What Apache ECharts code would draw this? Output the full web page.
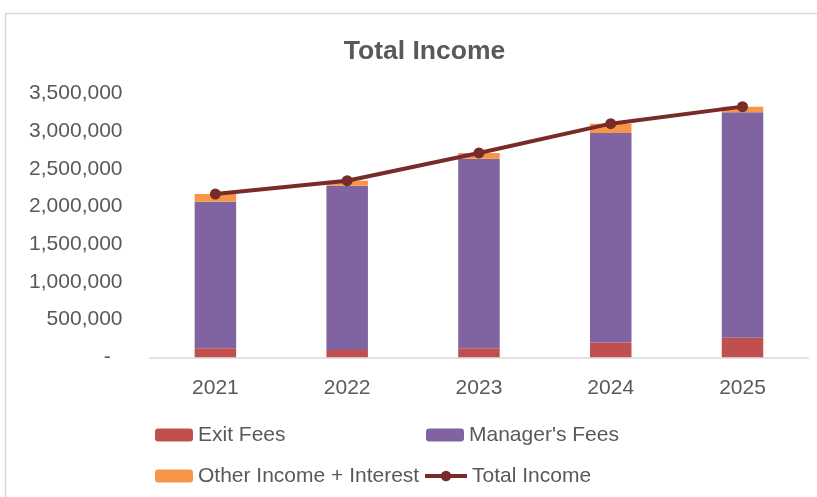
<!DOCTYPE html>
<html>
<head>
<meta charset="utf-8">
<script src="https://cdn.jsdelivr.net/npm/echarts@6/dist/echarts.min.js"></script>
<style>
html,body{margin:0;padding:0;background:#fff;}
#c{width:817px;height:497px;}
</style>
</head>
<body>
<div id="c"></div>
<script>
var categories = ['2021', '2022', '2023', '2024', '2025'];
var exitFees = [120000, 97000, 120000, 195000, 261000];
var managersFees = [1944000, 2180000, 2516000, 2783000, 2990000];
var otherIncome = [103000, 67000, 76000, 123000, 76000];
var totalIncome = [2167000, 2344000, 2712000, 3101000, 3327000];
var yTicks = [0, 500000, 1000000, 1500000, 2000000, 2500000, 3000000, 3500000];

var txt = '#595959';
var axisFont = "'Liberation Sans', Arial, sans-serif";
var chart = echarts.init(document.getElementById('c'), null, {renderer: 'canvas'});
var legendBase = {
  orient: 'horizontal', padding: 0, itemWidth: 38, itemHeight: 13,
  textStyle: {color: txt, fontSize: 21, fontFamily: axisFont, lineHeight: 20}
};
chart.setOption({
  animation: false,
  backgroundColor: '#fff',
  graphic: [{
    type: 'rect', silent: true,
    shape: {x: 5.5, y: 13.5, width: 900, height: 600},
    style: {fill: 'none', stroke: '#d9d9d9', lineWidth: 1.5}
  }],
  title: {
    text: 'Total Income', left: 419.5, top: 33, textAlign: 'center',
    textStyle: {fontSize: 26.5, fontWeight: 'bold', color: txt, fontFamily: axisFont}
  },
  legend: [
    Object.assign({}, legendBase, {left: 155, top: 424.5, data: ['Exit Fees']}),
    Object.assign({}, legendBase, {left: 426, top: 424.5, data: ["Manager's Fees"]}),
    Object.assign({}, legendBase, {left: 155, top: 465.5, data: ['Other Income + Interest']}),
    Object.assign({}, legendBase, {left: 423, top: 465.5, itemWidth: 42, itemHeight: 13,
      lineStyle: {width: 4, color: '#772c2a'}, data: ['Total Income']})
  ],
  grid: {left: 149.5, right: 8.6, top: 93.6, bottom: 497 - 357.3, containLabel: false},
  xAxis: {
    type: 'category', data: categories,
    axisLine: {show: true, lineStyle: {color: '#d9d9d9', width: 1.5}},
    axisTick: {show: false},
    axisLabel: {color: txt, fontSize: 21, fontFamily: axisFont, margin: 20}
  },
  yAxis: {
    type: 'value', min: yTicks[0], max: yTicks[yTicks.length - 1], interval: yTicks[1] - yTicks[0],
    axisLine: {show: false}, axisTick: {show: false}, splitLine: {show: false},
    axisLabel: {
      color: txt, fontSize: 21, fontFamily: axisFont, margin: 27,
      formatter: function (v) { return v === 0 ? '-  ' : v.toLocaleString('en-US'); }
    }
  },
  series: [
    {name: 'Exit Fees', type: 'bar', stack: 'inc', data: exitFees, barCategoryGap: '68.5%', itemStyle: {color: '#c0504d'}},
    {name: "Manager's Fees", type: 'bar', stack: 'inc', data: managersFees, itemStyle: {color: '#8064a2'}},
    {name: 'Other Income + Interest', type: 'bar', stack: 'inc', data: otherIncome, itemStyle: {color: '#f79646'}},
    {name: 'Total Income', type: 'line', data: totalIncome, symbol: 'circle', symbolSize: 11,
      lineStyle: {color: '#772c2a', width: 4}, itemStyle: {color: '#772c2a'}, z: 5}
  ]
});
</script>
</body>
</html>
